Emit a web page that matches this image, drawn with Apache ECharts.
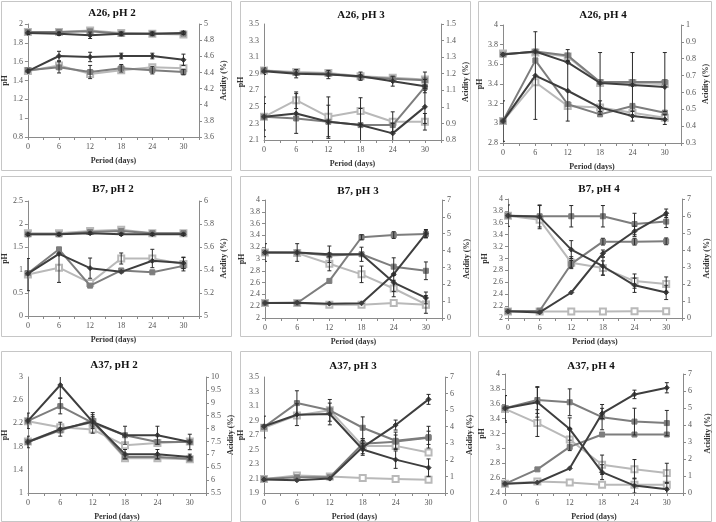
<!DOCTYPE html>
<html>
<head>
<meta charset="utf-8">
<script src="https://cdn.jsdelivr.net/npm/echarts@6.0.0/dist/echarts.min.js"></script>
<style>
    html, body { margin: 0; padding: 0; background: #fff; }
    #chart { width: 716px; height: 522px; }
</style>
</head>
<body>
<div id="chart"></div>
<script>
// sampling days
var days = [0, 6, 12, 18, 24, 30];

var titles = ['A26, pH 2', 'A26, pH 3', 'A26, pH 4', 'B7, pH 2', 'B7, pH 3', 'B7, pH 4', 'A37, pH 2', 'A37, pH 3', 'A37, pH 4'];
// [min, max, step]
var leftRanges = [[0.8, 2, 0.2], [2.1, 3.5, 0.2], [2.8, 4, 0.2], [0, 2.5, 0.5], [2, 4, 0.2], [2, 4, 0.2], [1, 3, 0.4], [1.9, 3.5, 0.2], [2.4, 4, 0.2]];
var rightRanges = [[3.6, 5, 0.2], [0.8, 1.5, 0.1], [0.3, 1, 0.1], [5, 6, 0.2], [0, 7, 1], [0, 7, 1], [5.5, 10, 0.5], [0, 7, 1], [0, 7, 1]];

// each group: [dark, medium, light]
var a26p2_pH = [[1.50, 1.66, 1.65, 1.66, 1.66, 1.62], [1.51, 1.54, 1.49, 1.53, 1.51, 1.49], [1.50, 1.56, 1.47, 1.51, 1.54, 1.53]];
var a26p2_acid = [[4.89, 4.88, 4.86, 4.88, 4.88, 4.89], [4.90, 4.90, 4.91, 4.88, 4.88, 4.88], [4.90, 4.90, 4.92, 4.89, 4.88, 4.87]];
var a26p2_pHErr = [[0.02, 0.05, 0.05, 0.03, 0.03, 0.06], [0, 0.06, 0.07, 0.04, 0.04, 0.03], [0, 0, 0, 0, 0, 0]];
var a26p2_acidErr = [[0.02, 0.02, 0.04, 0.02, 0.02, 0.02], [0, 0, 0, 0, 0, 0], [0, 0, 0, 0, 0, 0]];

var a26p3_pH = [[2.93, 2.90, 2.89, 2.87, 2.81, 2.75], [2.94, 2.91, 2.90, 2.86, 2.84, 2.82], [2.94, 2.92, 2.91, 2.87, 2.85, 2.83]];
var a26p3_acid = [[0.94, 0.96, 0.91, 0.89, 0.84, 1.00], [0.94, 0.93, 0.91, 0.89, 0.89, 1.12], [0.94, 1.04, 0.94, 0.975, 0.91, 0.91]];
var a26p3_pHErr = [[0.04, 0.05, 0.05, 0.05, 0.06, 0.08], [0, 0, 0, 0, 0, 0.1], [0, 0, 0, 0, 0, 0]];
var a26p3_acidErr = [[0.08, 0.12, 0.1, 0.1, 0.06, 0.1], [0, 0, 0, 0, 0, 0], [0.12, 0.05, 0.12, 0.08, 0.06, 0.05]];

var a26p4_pH = [[3.70, 3.73, 3.62, 3.41, 3.39, 3.37], [3.70, 3.73, 3.69, 3.42, 3.42, 3.42], [3.71, 3.72, 3.68, 3.41, 3.41, 3.40]];
var a26p4_acid = [[0.43, 0.70, 0.61, 0.51, 0.46, 0.44], [0.43, 0.79, 0.53, 0.47, 0.52, 0.48], [0.43, 0.66, 0.52, 0.51, 0.48, 0.45]];
var a26p4_pHErr = [[0, 0, 0, 0, 0, 0], [0, 0, 0.06, 0.3, 0.3, 0.3], [0, 0, 0, 0, 0, 0]];
var a26p4_acidErr = [[0.12, 0.26, 0.18, 0.04, 0.03, 0.03], [0, 0, 0, 0, 0, 0], [0, 0, 0, 0, 0, 0]];

var b7p2_pH = [[0.92, 1.35, 1.04, 0.96, 1.20, 1.15], [0.93, 1.45, 0.66, 0.99, 0.95, 1.09], [0.90, 1.05, 0.72, 1.25, 1.25, 1.13]];
var b7p2_acid = [[5.71, 5.71, 5.72, 5.71, 5.71, 5.71], [5.71, 5.71, 5.73, 5.74, 5.72, 5.72], [5.72, 5.72, 5.74, 5.75, 5.72, 5.72]];
var b7p2_pHErr = [[0, 0, 0.22, 0, 0, 0.12], [0, 0, 0, 0, 0, 0], [0.35, 0.32, 0, 0.12, 0.2, 0.15]];
var b7p2_acidErr = [[0.01, 0.01, 0.01, 0.01, 0.01, 0.01], [0, 0, 0, 0, 0, 0], [0, 0, 0, 0, 0, 0]];

var b7p3_pH = [[3.11, 3.11, 3.08, 3.08, 2.60, 2.34], [3.11, 3.11, 3.06, 3.08, 2.87, 2.80], [3.11, 3.10, 2.92, 2.74, 2.50, 2.23]];
var b7p3_acid = [[0.89, 0.91, 0.85, 0.87, 2.60, 5.00], [0.89, 0.89, 2.20, 4.79, 4.92, 4.98], [0.89, 0.89, 0.79, 0.79, 0.89, 0.79]];
var b7p3_pHErr = [[0.15, 0.15, 0.14, 0.12, 0.15, 0.1], [0, 0, 0, 0, 0.15, 0.15], [0, 0, 0.12, 0.14, 0.14, 0.15]];
var b7p3_acidErr = [[0, 0, 0, 0, 0, 0.25], [0, 0, 0, 0.15, 0.2, 0.2], [0, 0, 0, 0, 0, 0]];

var b7p4_pH = [[3.72, 3.70, 3.15, 2.87, 2.55, 2.43], [3.72, 3.71, 3.71, 3.71, 3.58, 3.62], [3.72, 3.65, 2.93, 2.84, 2.62, 2.57]];
var b7p4_acid = [[0.39, 0.33, 1.50, 3.80, 5.10, 6.16], [0.39, 0.43, 3.18, 4.49, 4.49, 4.51], [0.38, 0.38, 0.38, 0.38, 0.40, 0.40]];
var b7p4_pHErr = [[0, 0.2, 0.15, 0.15, 0.12, 0.12], [0.18, 0.18, 0.18, 0.18, 0.18, 0.1], [0, 0, 0.1, 0.12, 0.12, 0.12]];
var b7p4_acidErr = [[0, 0, 0, 0.2, 0.3, 0.25], [0, 0, 0.2, 0.2, 0.2, 0.2], [0, 0, 0, 0, 0, 0]];

var a37p2_pH = [[1.88, 2.10, 2.23, 1.67, 1.67, 1.62], [1.88, 2.08, 2.25, 1.62, 1.62, 1.59], [1.89, 2.10, 2.22, 1.60, 1.60, 1.58]];
var a37p2_acid = [[8.30, 9.69, 8.26, 7.74, 7.74, 7.48], [8.30, 8.87, 8.22, 7.74, 7.48, 7.48], [8.28, 8.05, 7.96, 7.35, 7.44, 7.50]];
var a37p2_pHErr = [[0.1, 0.12, 0.12, 0.08, 0.08, 0.05], [0, 0, 0, 0, 0, 0], [0, 0, 0, 0, 0, 0]];
var a37p2_acidErr = [[0.3, 0.5, 0.2, 0.35, 0.35, 0.3], [0, 0.3, 0.4, 0, 0, 0], [0, 0, 0, 0, 0, 0]];

var a37p3_pH = [[2.82, 2.98, 2.99, 2.50, 2.36, 2.25], [2.81, 3.14, 3.04, 2.80, 2.62, 2.67], [2.80, 2.97, 3.04, 2.55, 2.55, 2.46]];
var a37p3_acid = [[0.81, 0.77, 0.87, 2.77, 4.10, 5.65], [0.85, 0.95, 0.95, 2.97, 3.10, 3.33], [0.85, 1.05, 1.00, 0.90, 0.85, 0.80]];
var a37p3_pHErr = [[0, 0.15, 0.15, 0.08, 0.12, 0.12], [0.15, 0.17, 0.15, 0.15, 0.12, 0.15], [0, 0, 0, 0, 0, 0]];
var a37p3_acidErr = [[0, 0, 0, 0.4, 0.3, 0.3], [0, 0, 0, 0.3, 0.4, 0.4], [0, 0, 0, 0, 0, 0]];

var a37p4_pH = [[3.54, 3.62, 3.26, 2.68, 2.50, 2.45], [3.54, 3.65, 3.62, 3.42, 3.36, 3.34], [3.53, 3.34, 3.12, 2.78, 2.72, 2.67]];
var a37p4_acid = [[0.54, 0.62, 1.45, 4.68, 5.80, 6.19], [0.54, 1.39, 2.71, 3.44, 3.44, 3.44], [0.54, 0.68, 0.62, 0.48, 0.48, 0.48]];
var a37p4_pHErr = [[0, 0.2, 0.15, 0.1, 0.1, 0.08], [0.17, 0.18, 0.18, 0.17, 0.18, 0.17], [0.18, 0.18, 0.15, 0.13, 0.13, 0.13]];
var a37p4_acidErr = [[0, 0, 0, 0.3, 0.25, 0.3], [0, 0, 0, 0, 0, 0], [0, 0, 0, 0, 0, 0]];

var allPH = [a26p2_pH, a26p3_pH, a26p4_pH, b7p2_pH, b7p3_pH, b7p4_pH, a37p2_pH, a37p3_pH, a37p4_pH];
var allAcid = [a26p2_acid, a26p3_acid, a26p4_acid, b7p2_acid, b7p3_acid, b7p4_acid, a37p2_acid, a37p3_acid, a37p4_acid];
var allPHErr = [a26p2_pHErr, a26p3_pHErr, a26p4_pHErr, b7p2_pHErr, b7p3_pHErr, b7p4_pHErr, a37p2_pHErr, a37p3_pHErr, a37p4_pHErr];
var allAcidErr = [a26p2_acidErr, a26p3_acidErr, a26p4_acidErr, b7p2_acidErr, b7p3_acidErr, b7p4_acidErr, a37p2_acidErr, a37p3_acidErr, a37p4_acidErr];

// layout: plot boxes [left, top, width, height], title centres, frames
var boxes = [
    [22, 24, 177, 113], [264, 24, 177, 116], [503, 25, 178, 118],
    [23, 201, 176, 115], [265, 200, 177, 118], [508, 199, 174, 119],
    [21, 377, 185, 116], [264, 377, 181, 116], [505, 374, 178, 121]
];
var titlePos = [[112, 13], [361, 15], [603, 15], [113, 189], [358, 191], [599, 189], [114, 365], [353, 366], [591, 366]];
var frameX = [1, 240, 478], frameW = [230, 230, 233];
var frameY = [1, 176, 351], frameH = [169, 160, 170];

var colors = ['#3e3e3e', '#7d7d7d', '#b9b9b9'];
var symbols = ['diamond', 'rect', 'emptyRect'];
var serif = '"Liberation Serif", "Times New Roman", serif';

function yAxisCfg(gi, range, pos, name, gap) {
    var min = range[0], max = range[1], step = range[2];
    var ratio = min / step;
    var aligned = Math.abs(ratio - Math.round(ratio)) < 1e-6;
    var cfg = {
        gridIndex: gi,
        type: 'value',
        position: pos,
        min: min,
        max: max,
        interval: aligned ? step : step / 2,
        name: name,
        nameLocation: 'middle',
        nameRotate: 90,
        nameGap: gap,
        nameTextStyle: {fontFamily: serif, fontWeight: 'bold', fontSize: 8, color: '#333'},
        axisLine: {show: true, lineStyle: {color: '#8a8a8a', width: 1}},
        axisTick: {show: aligned, length: 3, lineStyle: {color: '#8a8a8a'}},
        splitLine: {show: false},
        axisLabel: {fontFamily: serif, fontSize: 8, color: '#555', margin: 5}
    };
    if (!aligned) {
        cfg.axisLabel.formatter = function (v) {
            var k = Math.round((v - min) / step * 2);
            return k % 2 === 0 ? String(+v.toFixed(2)) : '';
        };
    }
    return cfg;
}

function errRender(params, api) {
    var x = api.value(0);
    var lo = api.coord([x, api.value(1)]);
    var hi = api.coord([x, api.value(2)]);
    var c = 2;
    var st = {stroke: '#2a2a2a', lineWidth: 1};
    return {
        type: 'group',
        children: [
            {type: 'line', shape: {x1: lo[0], y1: lo[1], x2: hi[0], y2: hi[1]}, style: st},
            {type: 'line', shape: {x1: lo[0] - c, y1: lo[1], x2: lo[0] + c, y2: lo[1]}, style: st},
            {type: 'line', shape: {x1: hi[0] - c, y1: hi[1], x2: hi[0] + c, y2: hi[1]}, style: st}
        ]
    };
}

function lineSeries(xi, yi, vals, j) {
    return {
        type: 'line',
        xAxisIndex: xi,
        yAxisIndex: yi,
        data: days.map(function (d, k) { return [d, vals[k]]; }),
        symbol: symbols[j],
        symbolSize: j === 2 ? 6 : 5,
        lineStyle: {color: colors[j], width: 2},
        itemStyle: {color: colors[j], borderColor: colors[j]},
        z: 3 - j + 2
    };
}

function errSeries(xi, yi, vals, errs) {
    var data = [];
    for (var k = 0; k < days.length; k++) {
        if (errs[k] > 0) data.push([days[k], vals[k] - errs[k], vals[k] + errs[k]]);
    }
    return {
        type: 'custom',
        xAxisIndex: xi,
        yAxisIndex: yi,
        data: data,
        encode: {x: 0, y: [1, 2]},
        renderItem: errRender,
        clip: true,
        z: 6
    };
}

var grids = [], xAxes = [], yAxes = [], series = [], graphics = [];

for (var r = 0; r < 3; r++) {
    for (var c = 0; c < 3; c++) {
        graphics.push({
            type: 'rect',
            shape: {x: frameX[c] + 0.5, y: frameY[r] + 0.5, width: frameW[c], height: frameH[r]},
            style: {fill: 'none', stroke: '#c6c6c6', lineWidth: 1},
            silent: true
        });
    }
}

for (var i = 0; i < 9; i++) {
    var b = boxes[i];
    grids.push({left: b[0], top: b[1], width: b[2], height: b[3]});
    xAxes.push({
        gridIndex: i,
        type: 'value',
        min: 0,
        max: 33,
        interval: 3,
        name: 'Period (days)',
        nameLocation: 'middle',
        nameGap: 20,
        nameTextStyle: {fontFamily: serif, fontWeight: 'bold', fontSize: 8, color: '#333'},
        axisLine: {lineStyle: {color: '#8a8a8a', width: 1}},
        axisTick: {length: 3, lineStyle: {color: '#8a8a8a'}},
        splitLine: {show: false},
        axisLabel: {
            fontFamily: serif, fontSize: 8, color: '#555', margin: 6,
            formatter: function (v) { return v % 6 === 0 ? String(v) : ''; }
        }
    });
    yAxes.push(yAxisCfg(i, leftRanges[i], 'left', 'pH', 16));
    yAxes.push(yAxisCfg(i, rightRanges[i], 'right', 'Acidity (%)', 21));

    for (var j = 0; j < 3; j++) {
        series.push(lineSeries(i, 2 * i, allPH[i][j], j));
        series.push(lineSeries(i, 2 * i + 1, allAcid[i][j], j));
        series.push(errSeries(i, 2 * i, allPH[i][j], allPHErr[i][j]));
        series.push(errSeries(i, 2 * i + 1, allAcid[i][j], allAcidErr[i][j]));
    }

    graphics.push({
        type: 'text',
        x: titlePos[i][0],
        y: titlePos[i][1],
        style: {
            text: titles[i],
            font: 'bold 11px ' + serif,
            fill: '#111',
            textAlign: 'center',
            textVerticalAlign: 'middle'
        },
        silent: true
    });
}

var myChart = echarts.init(document.getElementById('chart'));
myChart.setOption({
    backgroundColor: '#fff',
    animation: false,
    grid: grids,
    xAxis: xAxes,
    yAxis: yAxes,
    series: series,
    graphic: graphics
});
</script>
</body>
</html>
